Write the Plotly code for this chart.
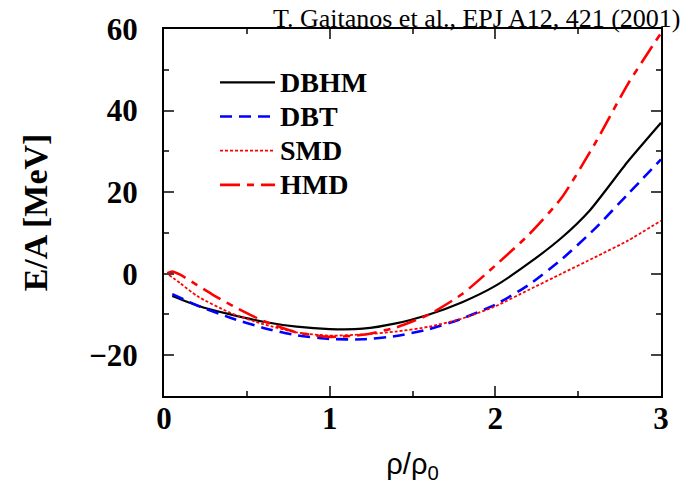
import plotly.graph_objects as go

# ---- data ----
rho_dbhm = [0.05, 0.2, 0.4, 0.6, 0.8, 1.0, 1.2, 1.4, 1.6, 1.8, 2.0, 2.2, 2.4, 2.57, 2.8, 3.0]
e_dbhm = [-5.5, -7.8, -10.0, -11.8, -13.0, -13.6, -13.5, -12.2, -10.0, -7.0, -3.0, 2.5, 8.8, 15.5, 27.5, 37.0]

rho_dbt = [0.05, 0.2, 0.4, 0.6, 0.8, 1.0, 1.2, 1.4, 1.6, 1.8, 2.0, 2.2, 2.4, 2.6, 2.8, 3.0]
e_dbt = [-5.0, -7.8, -10.8, -13.3, -15.1, -16.0, -16.1, -15.3, -13.6, -11.0, -7.6, -2.8, 3.5, 11.0, 19.5, 28.0]

rho_smd = [0.03, 0.1, 0.2, 0.4, 0.6, 0.8, 1.0, 1.2, 1.4, 1.6, 1.8, 2.0, 2.2, 2.4, 2.6, 2.8, 3.0]
e_smd = [-0.3, -2.4, -5.5, -9.6, -12.4, -14.4, -15.2, -14.9, -14.2, -13.0, -11.0, -8.0, -4.0, 0.0, 4.0, 8.1, 13.0]

rho_hmd = [0.02, 0.05, 0.1, 0.2, 0.3, 0.4, 0.6, 0.8, 1.0, 1.2, 1.4, 1.6, 1.8, 2.0, 2.2, 2.4, 2.6, 2.8, 3.0]
e_hmd = [0.1, 0.5, -0.3, -2.8, -5.3, -7.6, -11.6, -14.4, -15.5, -15.0, -13.2, -10.0, -5.0, 2.0, 9.5, 18.6, 31.8, 46.5, 59.0]

names = ["DBHM", "DBT", "SMD", "HMD"]
x_ticks = [0, 1, 2, 3]
y_ticks = [-20, 0, 20, 40, 60]

SERIF = "Liberation Serif, Times New Roman, serif"


def leg(name):
    return '<span style="font-size:28px">' + name + "</span>"


fig = go.Figure()
fig.add_trace(go.Scatter(x=rho_dbhm, y=e_dbhm, name=leg(names[0]), mode="lines",
                         line=dict(color="black", width=2.2, shape="spline", smoothing=0.6)))
fig.add_trace(go.Scatter(x=rho_dbt, y=e_dbt, name=leg(names[1]), mode="lines",
                         line=dict(color="#0000ff", width=2.6, dash="12px,7px", shape="spline", smoothing=0.6)))
fig.add_trace(go.Scatter(x=rho_smd, y=e_smd, name=leg(names[2]), mode="lines",
                         line=dict(color="#ff0000", width=1.8, dash="3px,2px", shape="spline", smoothing=0.6)))
fig.add_trace(go.Scatter(x=rho_hmd, y=e_hmd, name=leg(names[3]), mode="lines",
                         line=dict(color="#ff0000", width=2.6, dash="20px,7px,7px,7px", shape="spline", smoothing=0.6)))

tickfont = dict(family=SERIF, size=31, color="black", weight="bold")

fig.update_layout(
    width=685, height=494,
    margin=dict(l=164, r=24, t=29, b=98),
    paper_bgcolor="white", plot_bgcolor="white",
    showlegend=True,
    legend=dict(x=0.1026, y=0.915, xanchor="left", yanchor="top",
                font=dict(family=SERIF, size=24, color="black", weight="bold"),
                bgcolor="rgba(0,0,0,0)", itemwidth=55, tracegroupgap=0),
    xaxis=dict(range=[0, 3], tickvals=x_ticks, ticks="inside", ticklen=10, tickwidth=2,
               showline=True, linewidth=2, linecolor="black", mirror="allticks",
               showgrid=False, zeroline=False, tickfont=tickfont,
               ticklabelstandoff=-6,
               minor=dict(dtick=0.5, ticks="inside", ticklen=5, tickwidth=2, showgrid=False),
               title=dict(text="ρ/ρ<sub>0</sub>", font=dict(family="Liberation Sans", size=29, color="black"),
                          standoff=18)),
    yaxis=dict(range=[-30, 60], tickvals=y_ticks, ticks="inside", ticklen=10, tickwidth=2,
               showline=True, linewidth=2, linecolor="black", mirror="allticks",
               showgrid=False, zeroline=False, tickfont=tickfont,
               ticklabelstandoff=18,
               minor=dict(dtick=10, ticks="inside", ticklen=5, tickwidth=2, showgrid=False),
               title=dict(text="E/A [MeV]", font=dict(family=SERIF, size=34, color="black", weight="bold"),
                          standoff=31)),
    annotations=[dict(text="T. Gaitanos et al., EPJ A12, 421 (2001)", xref="paper", yref="paper",
                      x=1.044, y=0.985, xanchor="right", yanchor="bottom", showarrow=False,
                      font=dict(family=SERIF, size=26, color="black"))],
)

fig.write_html("out.html")
